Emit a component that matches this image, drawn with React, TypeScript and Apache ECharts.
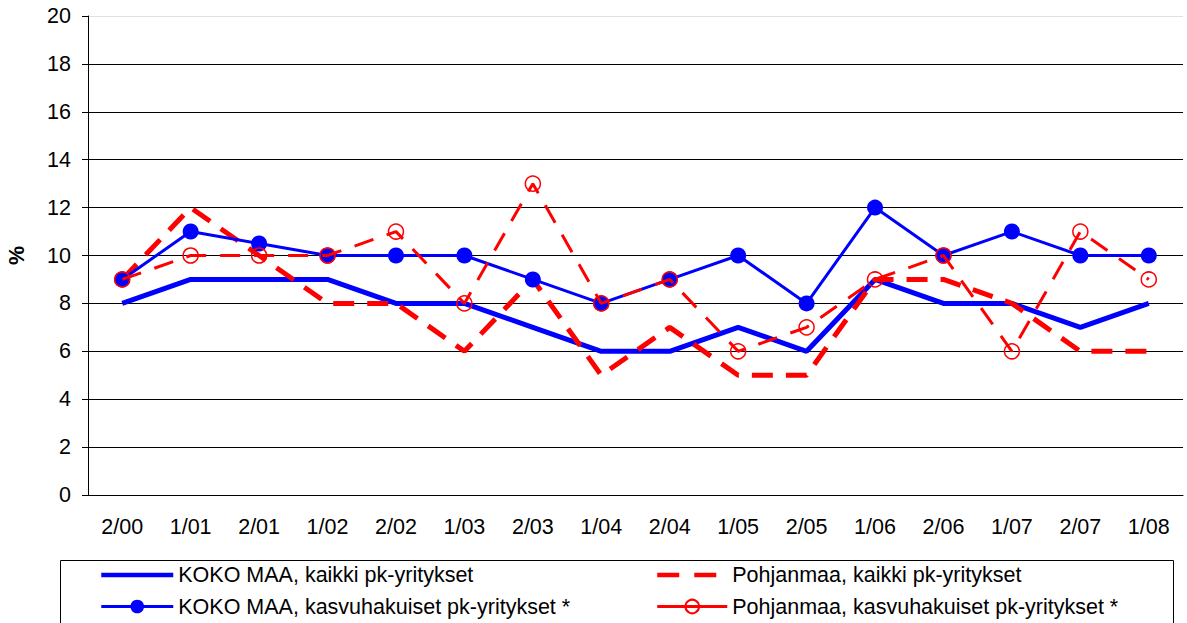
import React, { useEffect, useRef } from "react";
import * as echarts from "echarts";

const categories = ["2/00", "1/01", "2/01", "1/02", "2/02", "1/03", "2/03", "1/04", "2/04", "1/05", "2/05", "1/06", "2/06", "1/07", "2/07", "1/08"];
const kokoKaikki = [8, 9, 9, 9, 8, 8, 7, 6, 6, 7, 6, 9, 8, 8, 7, 8];
const kokoKasvu = [9, 11, 10.5, 10, 10, 10, 9, 8, 9, 10, 8, 12, 10, 11, 10, 10];
const pohjKaikki = [9, 12, 10, 8, 8, 6, 9, 5, 7, 5, 5, 9, 9, 8, 6, 6];
const pohjKasvu = [9, 10, 10, 10, 11, 8, 13, 8, 9, 6, 7, 9, 10, 6, 11, 9];
const seriesNames = [
  "KOKO MAA, kaikki pk-yritykset",
  "KOKO MAA, kasvuhakuiset pk-yritykset *",
  "Pohjanmaa, kaikki pk-yritykset",
  "Pohjanmaa, kasvuhakuiset pk-yritykset *",
];

const FONT = "'Liberation Sans', Arial, sans-serif";
const FS = 21.5;

export default function App() {
  const ref = useRef<HTMLDivElement>(null);
  useEffect(() => {
    if (!ref.current) return;
    const chart = echarts.init(ref.current, undefined, { renderer: "svg" });
    const blue = "#0000ff";
    const red = "#ff0000";
    const splitColors = ["#000", "#000", "#000", "#000", "#000", "#000", "#000", "#000", "#000", "#000", "#e0e0e0"];
    const hidden = { color: "rgba(0,0,0,0)", borderColor: "rgba(0,0,0,0)", borderWidth: 0, opacity: 0 };
    chart.setOption({
      animation: false,
      backgroundColor: "#fff",
      textStyle: { fontFamily: FONT, color: "#000" },
      grid: { left: 88, right: 4, top: 16, bottom: 128, containLabel: false, outerBoundsMode: "none" },
      xAxis: {
        type: "category",
        data: categories,
        boundaryGap: true,
        axisLine: { lineStyle: { color: "#000", width: 1 } },
        axisTick: { show: false },
        axisLabel: { fontSize: FS, color: "#000", margin: 21, fontFamily: FONT },
      },
      yAxis: {
        type: "value",
        min: 0,
        max: 20,
        interval: 2,
        name: "%",
        nameLocation: "middle",
        nameGap: 60,
        nameRotate: 90,
        nameTextStyle: { fontSize: FS, fontWeight: "bold", color: "#000", fontFamily: FONT },
        axisLine: { show: true, lineStyle: { color: "#000", width: 1 } },
        axisTick: { show: true, length: 6, lineStyle: { color: "#000" } },
        axisLabel: { fontSize: FS, color: "#000", margin: 17, fontFamily: FONT },
        splitLine: { show: true, lineStyle: { color: splitColors, width: 1 } },
      },
      legend: [
        {
          orient: "vertical",
          left: 94,
          top: 559,
          itemWidth: 72,
          itemHeight: 17,
          itemGap: 9.5,
          textStyle: { fontSize: FS, color: "#000", fontFamily: FONT },
          data: [
            { name: seriesNames[0], icon: "inherit", itemStyle: hidden, lineStyle: { width: 4.5 } },
            { name: seriesNames[1], icon: "inherit", lineStyle: { width: 3 } },
          ],
        },
        {
          orient: "vertical",
          left: 650,
          top: 559,
          itemWidth: 70,
          itemHeight: 17,
          itemGap: 9.5,
          textStyle: { fontSize: FS, color: "#000", fontFamily: FONT },
          data: [
            { name: seriesNames[2], icon: "inherit", itemStyle: hidden, lineStyle: { type: [22, 15], width: 4.5 } },
            { name: seriesNames[3], icon: "inherit", lineStyle: { type: "solid", width: 3 } },
          ],
        },
      ],
      graphic: [
        {
          type: "rect",
          left: 58,
          top: 558,
          shape: { width: 1113, height: 80 },
          style: { fill: "none", stroke: "#000", lineWidth: 1 },
          silent: true,
        },
      ],
      series: [
        {
          name: seriesNames[0],
          type: "line",
          data: kokoKaikki,
          symbol: "none",
          color: blue,
          lineStyle: { color: blue, width: 5 },
          z: 2,
        },
        {
          name: seriesNames[2],
          type: "line",
          data: pohjKaikki,
          symbol: "none",
          color: red,
          lineStyle: { color: red, width: 5, type: [21, 13] },
          z: 3,
        },
        {
          name: seriesNames[1],
          type: "line",
          data: kokoKasvu,
          symbol: "circle",
          symbolSize: 16,
          color: blue,
          itemStyle: { color: blue },
          lineStyle: { color: blue, width: 3 },
          z: 4,
        },
        {
          name: seriesNames[3],
          type: "line",
          data: pohjKasvu,
          symbol: "circle",
          symbolSize: 15,
          color: red,
          itemStyle: { color: "none", borderColor: red, borderWidth: 1.5 },
          lineStyle: { color: red, width: 3, type: [20, 14] },
          z: 5,
        },
      ],
    });
    return () => chart.dispose();
  }, []);
  return (
    <div
      ref={ref}
      style={{ position: "absolute", left: 0, top: 0, width: 1187, height: 623, background: "#fff" }}
    />
  );
}
